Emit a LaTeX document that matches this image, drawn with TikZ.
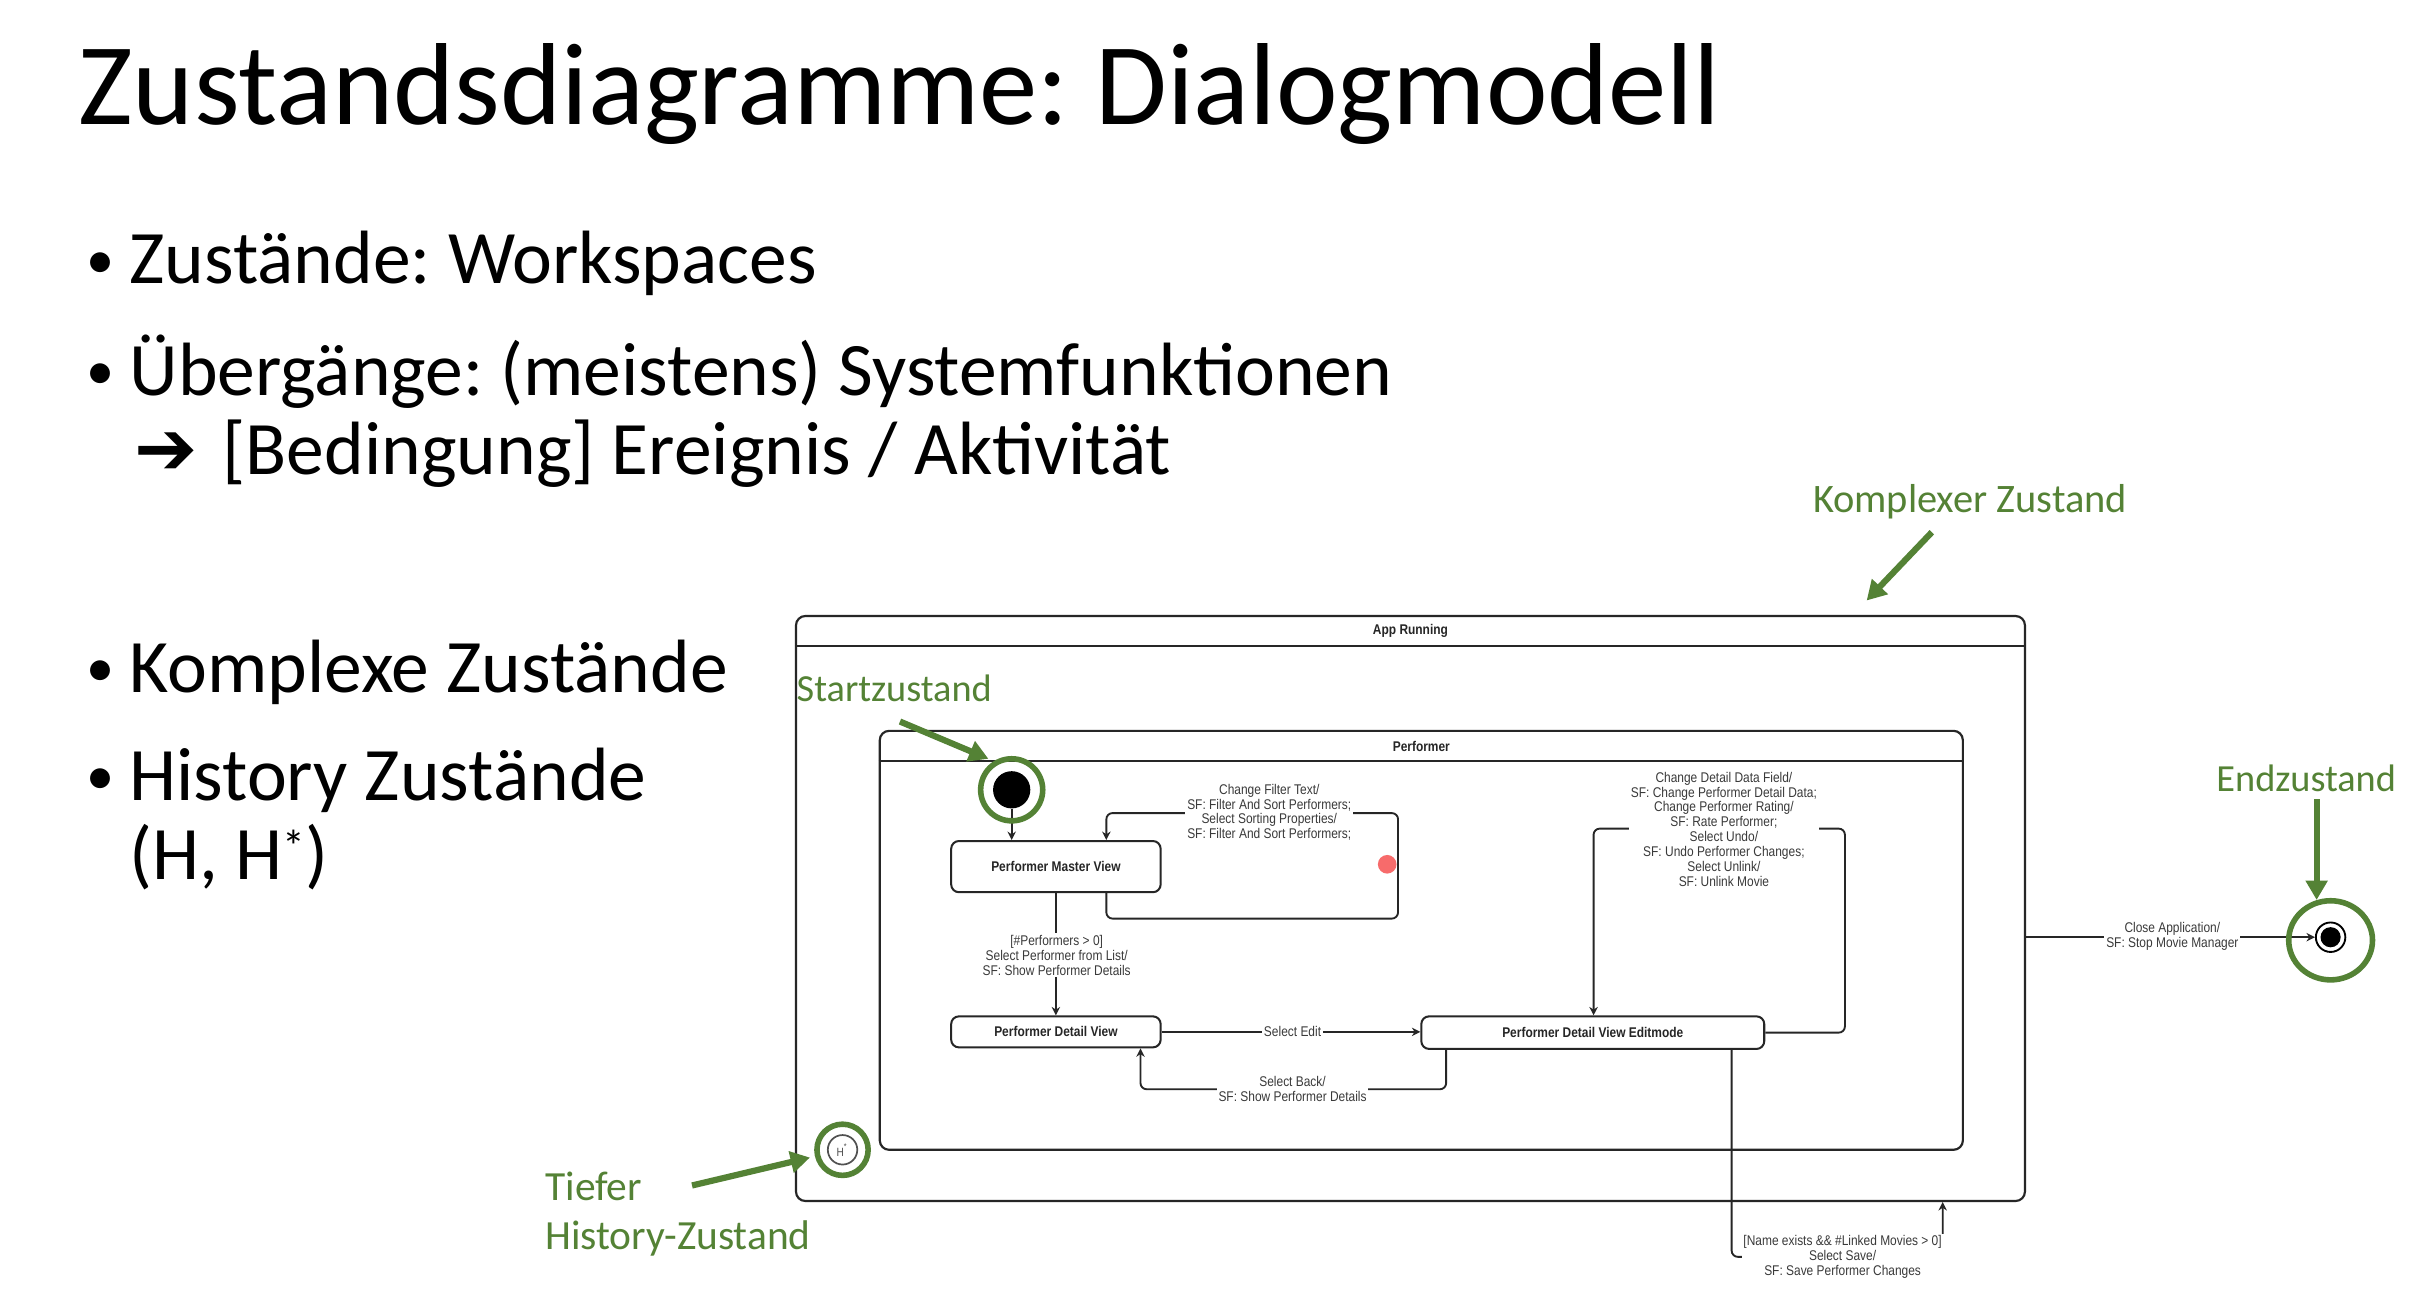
\documentclass[tikz,border=0pt]{standalone}
\usepackage{fontspec}
\setmainfont{Carlito}
\newfontfamily\diagfont[FakeStretch=0.85]{Liberation Sans}
\newfontfamily\symfont{DejaVu Sans}
\usetikzlibrary{arrows.meta,calc}

\newdimen\px \px=0.015517cm
\definecolor{annot}{HTML}{548235}
\definecolor{ink}{HTML}{262626}
\definecolor{lblink}{HTML}{3A3A3A}
\definecolor{marker}{HTML}{F76B6B}
\newcommand\bulletmark{\makebox[28\px][l]{\raisebox{1.6pt}{\fontsize{16}{16}\selectfont •}}}
\newcommand\starmark{\raisebox{5pt}{\fontsize{13}{13}\selectfont *}}

\tikzset{
  composite/.style={draw=ink, line width=1.4\px, rounded corners=6\px, inner sep=0pt},
  headline/.style={draw=ink, line width=1.6\px},
  hdr/.style={inner sep=0pt, text=ink, font=\diagfont\bfseries\fontsize{4}{4.3}\selectfont},
  statebox/.style={draw=ink, line width=1.3\px, rounded corners=5\px, inner sep=0pt,
    text=ink, font=\diagfont\bfseries\fontsize{4}{4.3}\selectfont},
  tr/.style={draw=ink, line width=1.2\px, rounded corners=4\px,
    -{Stealth[length=2.4pt, width=2.4pt]}},
  lbl/.style={fill=white, inner sep=1.2\px, align=center, text=lblink,
    font=\diagfont\fontsize{4}{4.25}\selectfont},
  hint/.style={text=annot, inner sep=0pt, anchor=base west},
  pointer/.style={draw=annot, line width=4\px, -{Triangle[length=5.5pt, width=6pt]}},
  ring/.style={draw=annot, line width=3.6\px},
  bullet/.style={inner sep=0pt, anchor=base west, align=left,
    font=\frenchspacing\fontsize{21.5}{22.6}\selectfont},
}

\begin{document}
\begin{tikzpicture}[x=0.015517cm, y=-0.015517cm]
\useasboundingbox[fill=white] (0,0) rectangle (1568,837);

% ---------- slide text ----------
\node[inner sep=0pt, anchor=base west, font=\frenchspacing\fontsize{33.2}{38}\selectfont] (title) at (50,80)
  {Zustandsdiagramme: Dialogmodell};

% multi-line nodes sit on the baseline of their last line
\node[bullet] (b1) at (55,183) {\bulletmark Zustände: Workspaces};
\node[bullet] (b2) at (55,306) {\bulletmark Übergänge: (meistens) Systemfunktionen\\
  \hspace*{31\px}\makebox[57\px][l]{\symfont ➔}[Bedingung] Ereignis / Aktivität};
\node[bullet] (b4) at (55,446) {\bulletmark Komplexe Zustände};
\node[bullet] (b5) at (55,567) {\bulletmark History Zustände\\
  \hspace*{28\px}(H, H\starmark)};

% ---------- composite states ----------
\node[composite, minimum width=792\px, minimum height=377\px] (app) at (909,585.5) {};
\draw[headline] ($(app.north west)+(0,20)$) -- ($(app.north east)+(0,20)$);
\node[hdr] (appname) at ($(app.north)+(0,10)$) {App Running};

\node[composite, minimum width=698\px, minimum height=270\px] (perf) at (916,606) {};
\draw[headline] ($(perf.north west)+(0,20)$) -- ($(perf.north east)+(0,20)$);
\node[hdr] (perfname) at ($(perf.north)+(0,10.5)$) {Performer};

% ---------- simple states ----------
\node[circle, fill=black, minimum size=24\px, inner sep=0pt] (init) at (652,509) {};
\node[statebox, minimum width=135\px, minimum height=33\px] (pmv) at (680.5,558.5) {Performer Master View};
\node[statebox, minimum width=135\px, minimum height=20\px] (pdv) at (680.5,665) {Performer Detail View};
\node[statebox, minimum width=221\px, minimum height=21\px] (pde) at (1026.5,665.5) {Performer Detail View Editmode};
\node[circle, draw=black, line width=1.2\px, minimum size=19\px, inner sep=0pt] (final) at (1502,604) {};
\fill[black] (final) circle[radius=6.5];
\node[circle, draw=ink!80, line width=1.1\px, minimum size=19\px, inner sep=0pt, text=ink!80,
  font=\diagfont\fontsize{3.4}{3.6}\selectfont] (hist) at (543,741) {H\textsuperscript{*}};

% ---------- transitions ----------
\draw[tr] (init) -- (init |- pmv.north);

\coordinate (fl1) at (713,592);
\coordinate (fl2) at (901,524);
\draw[tr] (fl1 |- pmv.south) -- (fl1) -| (fl2) -| (fl1 |- pmv.north);

\draw[tr] (pmv) -- (pdv);
\draw[tr] (pdv.east) -- (pdv.east -| pde.west);

\coordinate (bk1) at (932,702);
\coordinate (bk2) at (735,702);
\draw[tr] (bk1 |- pde.south) -- (bk1) -- (bk2) -- (bk2 |- pdv.south);

\coordinate (ed1) at (1189,534);
\coordinate (ed2) at (1027,534);
\draw[tr] (pde.east) -| (ed1) -- (ed2) -- (ed2 |- pde.north);

\coordinate (sv1) at (1116,810);
\coordinate (sv2) at (1252,810);
\draw[tr] (sv1 |- pde.south) -- (sv1) -- (sv2) -- (sv2 |- app.south);

\draw[tr] (app.east |- final) -- (final);

% ---------- transition labels ----------
\node[lbl] (lfilter) at (818,523.5) {Change Filter Text/\\SF: Filter And Sort Performers;\\Select Sorting Properties/\\SF: Filter And Sort Performers;};
\node[lbl] (lselect) at (681,615.5) {{[}\#Performers > 0{]}\\Select Performer from List/\\SF: Show Performer Details};
\node[lbl] (ledit) at (833,665) {Select Edit};
\node[lbl] (lback) at (833,702) {Select Back/\\SF: Show Performer Details};
\node[lbl] (lmod) at (1111,534.5) {Change Detail Data Field/\\SF: Change Performer Detail Data;\\Change Performer Rating/\\SF: Rate Performer;\\Select Undo/\\SF: Undo Performer Changes;\\Select Unlink/\\SF: Unlink Movie};
\node[lbl] (lsave) at (1187.5,810) {{[}Name exists \&\& \#Linked Movies > 0{]}\\Select Save/\\SF: Save Performer Changes};
\node[lbl] (lclose) at (1400,603.5) {Close Application/\\SF: Stop Movie Manager};

% marker dot on the filter loop
\fill[marker] (894,557) circle[radius=6];

% ---------- annotations ----------
\draw[ring] (init) circle[radius=20];
\draw[ring] (1502,606) ellipse[x radius=27, y radius=25.5];
\draw[ring] (hist) circle[radius=16.5];

\node[hint, font=\fontsize{11.5}{13}\selectfont] (tkomplex) at (1168,330) {Komplexer Zustand};
\coordinate (kTail) at (1245,343);
\coordinate (kTip) at (1203,387);
\draw[pointer] (kTail) -- (kTip);

\node[hint, font=\fontsize{10.9}{13}\selectfont] (tstart) at (513,452) {Startzustand};
\coordinate (sTail) at (580,465);
\coordinate (sTip) at (637,489);
\draw[pointer] (sTail) -- (sTip);

\node[hint, font=\fontsize{10.9}{13}\selectfont] (tend) at (1428,510) {Endzustand};
\coordinate (eTail) at (1493,515);
\coordinate (eTip) at (1493,580);
\draw[pointer] (eTail) -- (eTip);

\node[hint, align=left, font=\fontsize{11.8}{13.7}\selectfont] (ttief) at (351,805) {Tiefer\\History-Zustand};
\coordinate (hTail) at (446,764);
\coordinate (hTip) at (522,746);
\draw[pointer] (hTail) -- (hTip);
\end{tikzpicture}
\end{document}
